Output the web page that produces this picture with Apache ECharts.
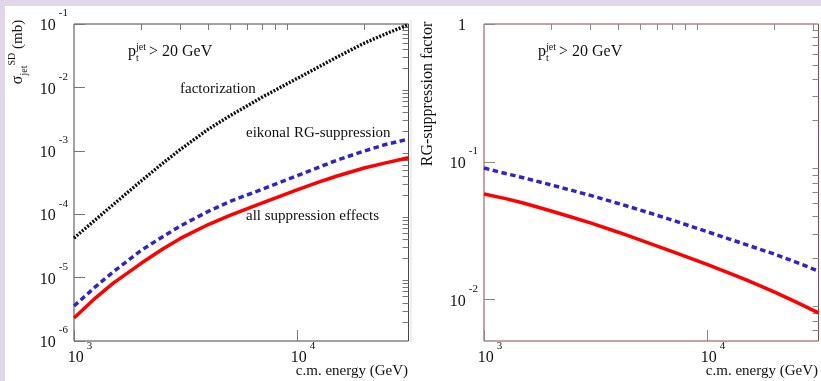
<!DOCTYPE html>
<html><head><meta charset="utf-8">
<script src="https://cdn.jsdelivr.net/npm/echarts@6/dist/echarts.min.js"></script>
<style>
html,body{margin:0;padding:0;background:#e2d7ea;overflow:hidden;}
#bg{position:absolute;left:5px;top:6px;width:816px;height:375px;background:#fff;}
#chart{position:absolute;left:0;top:0;width:821px;height:381px;}
</style></head><body>
<div id="bg"></div><div id="chart"></div>
<script>
// ---- data ----
const energies = [1000, 1250, 1500, 2000, 2500, 3000, 4000, 5000, 7000, 10000, 12500, 15000, 20000, 25000, 31623];
const sigmaFactorization = [4.2e-5, 8.22e-5, 1.42e-4, 3.34e-4, 6.37e-4, 1.05e-3, 2.19e-3, 3.56e-3, 7.06e-3, 1.38e-2, 2.10e-2, 2.97e-2, 4.98e-2, 0.070, 0.098];
const sigmaEikonal = [3.56e-6, 7.21e-6, 1.23e-5, 2.69e-5, 4.42e-5, 6.52e-5, 1.11e-4, 1.585e-4, 2.49e-4, 4.05e-4, 5.5e-4, 7.05e-4, 9.9e-4, 1.26e-3, 1.53e-3];
const sigmaAll = [2.31e-6, 4.80e-6, 8.18e-6, 1.68e-5, 2.82e-5, 4.15e-5, 6.87e-5, 9.6e-5, 1.51e-4, 2.42e-4, 3.2e-4, 3.97e-4, 5.35e-4, 6.45e-4, 7.75e-4];
const factorEikonal = [0.0901, 0.0822, 0.0766, 0.0679, 0.0617, 0.0570, 0.0498, 0.0447, 0.0377, 0.0311, 0.0276, 0.0250, 0.0214, 0.0187, 0.0161];
const factorAll = [0.0584, 0.0540, 0.0502, 0.0439, 0.0394, 0.0360, 0.0308, 0.0271, 0.0223, 0.0180, 0.0156, 0.01387, 0.01135, 0.00961, 0.0080];

// ---- ticks and tick labels ----
const xMajorTicks = [1000, 10000];
const xTickExponents = ['3', '4'];
const xMinorTicks = [2000, 3000, 4000, 5000, 6000, 7000, 8000, 9000, 20000, 30000];
const sigmaMajorTicks = [1e-6, 1e-5, 1e-4, 1e-3, 1e-2, 1e-1];
const sigmaTickExponents = ['-6', '-5', '-4', '-3', '-2', '-1'];
const sigmaMinorTicks = [];
[1e-6, 1e-5, 1e-4, 1e-3, 1e-2].forEach(d => { for (let k = 2; k <= 9; k++) sigmaMinorTicks.push(+(d * k).toPrecision(3)); });
const factorMajorTicks = [0.01, 0.1, 1];
const factorTickLabels = [['10', '-2'], ['10', '-1'], ['1', '']];
const factorMinorTicks = [0.006, 0.007, 0.008, 0.009, 0.02, 0.03, 0.04, 0.05, 0.06, 0.07, 0.08, 0.09, 0.2, 0.3, 0.4, 0.5, 0.6, 0.7, 0.8, 0.9];

const FONT = '"Liberation Serif", "DejaVu Serif", serif';
const TXT = '#111';

function findIdx(arr, v) {
  for (let i = 0; i < arr.length; i++) if (Math.abs(Math.log10(arr[i]) - Math.log10(v)) < 1e-6) return i;
  return -1;
}

const yRich = {
  b: { fontFamily: FONT, fontSize: 16, lineHeight: 36, color: TXT },
  e: { fontFamily: FONT, fontSize: 11, lineHeight: 11, verticalAlign: 'top', color: TXT, padding: [0, 0, 0, 3] },
  one: { fontFamily: FONT, fontSize: 16, lineHeight: 36, color: TXT, padding: [0, 12, 0, 0] }
};
const xRich = {
  b: { fontFamily: FONT, fontSize: 16, lineHeight: 33, color: TXT },
  e: { fontFamily: FONT, fontSize: 11, lineHeight: 11, verticalAlign: 'top', color: TXT, padding: [0, 0, 0, 3] }
};

function makeX(gridIndex, tickColor) {
  return [{
    type: 'log', logBase: 10, gridIndex, min: 1000, max: 31623,
    axisLine: { show: false }, splitLine: { show: false },
    axisTick: { show: true, inside: true, length: 11, customValues: xMajorTicks, lineStyle: { color: tickColor } },
    axisLabel: {
      customValues: xMajorTicks, margin: 0, padding: [0, 0, 0, 12],
      formatter: v => { const i = findIdx(xMajorTicks, v); return i < 0 ? '' : '{b|10}{e|' + xTickExponents[i] + '}'; },
      rich: xRich
    }
  }, {
    type: 'log', logBase: 10, gridIndex, min: 1000, max: 31623,
    axisLine: { show: false }, splitLine: { show: false }, axisLabel: { show: false },
    axisTick: { show: true, inside: true, length: 6, customValues: xMinorTicks, lineStyle: { color: tickColor } }
  }];
}

function lineSeries(xi, yi, values, style) {
  return { type: 'line', xAxisIndex: xi, yAxisIndex: yi, showSymbol: false, smooth: false,
    data: energies.map((e, i) => [e, values[i]]), lineStyle: style };
}
const dotted = { color: '#111', width: 3.4, type: [2, 1.5] };
const dashed = { color: '#3124c4', width: 3.5, type: [5.5, 3.5] };
const solid = { color: '#ff0000', width: 3.5 };

const option = {
  animation: false,
  backgroundColor: 'transparent',
  grid: [
    { left: 74, top: 24, width: 334.5, height: 317, show: true, borderColor: '#444', borderWidth: 1, backgroundColor: 'transparent' },
    { left: 484, top: 24, width: 334.5, height: 317, show: true, borderColor: '#8a4646', borderWidth: 1, backgroundColor: 'transparent' }
  ],
  xAxis: [].concat(makeX(0, '#777'), makeX(1, '#888')),
  yAxis: [
    {
      type: 'log', logBase: 10, gridIndex: 0, min: 1e-6, max: 0.1,
      axisLine: { show: false }, splitLine: { show: false },
      axisTick: { show: true, inside: true, length: 11, customValues: sigmaMajorTicks, lineStyle: { color: '#777' } },
      axisLabel: {
        customValues: sigmaMajorTicks, margin: 6, padding: [4, 0, 0, 0],
        formatter: v => { const i = findIdx(sigmaMajorTicks, v); return i < 0 ? '' : '{b|10}{e|' + sigmaTickExponents[i] + '}'; },
        rich: yRich
      }
    },
    {
      type: 'log', logBase: 10, gridIndex: 0, min: 1e-6, max: 0.1,
      axisLine: { show: false }, splitLine: { show: false }, axisLabel: { show: false },
      axisTick: { show: true, inside: true, length: 6, customValues: sigmaMinorTicks, lineStyle: { color: '#777' } }
    },
    {
      type: 'log', logBase: 10, gridIndex: 1, min: 0.005, max: 1,
      axisLine: { show: false }, splitLine: { show: false },
      axisTick: { show: true, inside: true, length: 11, customValues: factorMajorTicks, lineStyle: { color: '#888' } },
      axisLabel: {
        customValues: factorMajorTicks, margin: 6, padding: [4, 0, 0, 0],
        formatter: v => {
          const i = findIdx(factorMajorTicks, v); if (i < 0) return '';
          const t = factorTickLabels[i];
          return t[1] ? '{b|' + t[0] + '}{e|' + t[1] + '}' : '{one|' + t[0] + '}';
        },
        rich: yRich
      }
    },
    {
      type: 'log', logBase: 10, gridIndex: 1, min: 0.005, max: 1,
      axisLine: { show: false }, splitLine: { show: false }, axisLabel: { show: false },
      axisTick: { show: true, inside: true, length: 6, customValues: factorMinorTicks, lineStyle: { color: '#888' } }
    }
  ],
  series: [
    lineSeries(0, 0, sigmaFactorization, dotted),
    lineSeries(0, 0, sigmaEikonal, dashed),
    lineSeries(0, 0, sigmaAll, solid),
    lineSeries(2, 2, factorEikonal, dashed),
    lineSeries(2, 2, factorAll, solid)
  ],
  graphic: [
    { type: 'line', shape: { x1: 411, y1: 20, x2: 411, y2: 342 }, style: { stroke: '#dcdcdc', lineWidth: 1 } },
    // left y title
    { type: 'text', x: 18, y: 52, rotation: Math.PI / 2,
      style: { text: '{s|σ}{sub|jet}{sup|SD}{n| (mb)}', align: 'center', verticalAlign: 'middle', fill: TXT,
        rich: {
          s: { fontFamily: FONT, fontSize: 16, lineHeight: 22, fill: TXT },
          sub: { fontFamily: FONT, fontSize: 10, lineHeight: 10, verticalAlign: 'bottom', fill: TXT },
          sup: { fontFamily: FONT, fontSize: 10, lineHeight: 10, verticalAlign: 'top', fill: TXT },
          n: { fontFamily: FONT, fontSize: 15, lineHeight: 22, fill: TXT }
        } } },
    // right y title
    { type: 'text', x: 428, y: 94, rotation: Math.PI / 2,
      style: { text: 'RG-suppression factor', font: '16px ' + FONT, fill: TXT, align: 'center', verticalAlign: 'middle' } },
    // x titles
    { type: 'text', x: 408, y: 371, style: { text: 'c.m. energy (GeV)', font: '15px ' + FONT, fill: TXT, align: 'right', verticalAlign: 'middle' } },
    { type: 'text', x: 818, y: 371, style: { text: 'c.m. energy (GeV)', font: '15px ' + FONT, fill: TXT, align: 'right', verticalAlign: 'middle' } },
    // curve annotations
    { type: 'text', x: 180, y: 89, style: { text: 'factorization', font: '15px ' + FONT, fill: TXT, align: 'left', verticalAlign: 'middle' } },
    { type: 'text', x: 246, y: 133, style: { text: 'eikonal RG-suppression', font: '15px ' + FONT, fill: TXT, align: 'left', verticalAlign: 'middle' } },
    { type: 'text', x: 246, y: 216, style: { text: 'all suppression effects', font: '15px ' + FONT, fill: TXT, align: 'left', verticalAlign: 'middle' } }
  ].concat([0, 410].flatMap(dx => [
    { type: 'text', x: 128 + dx, y: 52, style: { text: 'p', font: '16px ' + FONT, fill: TXT, align: 'left', verticalAlign: 'middle' } },
    { type: 'text', x: 136 + dx, y: 58, style: { text: 't', font: '10px ' + FONT, fill: TXT, align: 'left', verticalAlign: 'middle' } },
    { type: 'text', x: 136 + dx, y: 47, style: { text: 'jet', font: '10px ' + FONT, fill: TXT, align: 'left', verticalAlign: 'middle' } },
    { type: 'text', x: 149 + dx, y: 52, style: { text: '> 20 GeV', font: '16px ' + FONT, fill: TXT, align: 'left', verticalAlign: 'middle' } }
  ]))
};

const chart = echarts.init(document.getElementById('chart'), null, { renderer: 'canvas' });
chart.setOption(option);
</script>
</body></html>
